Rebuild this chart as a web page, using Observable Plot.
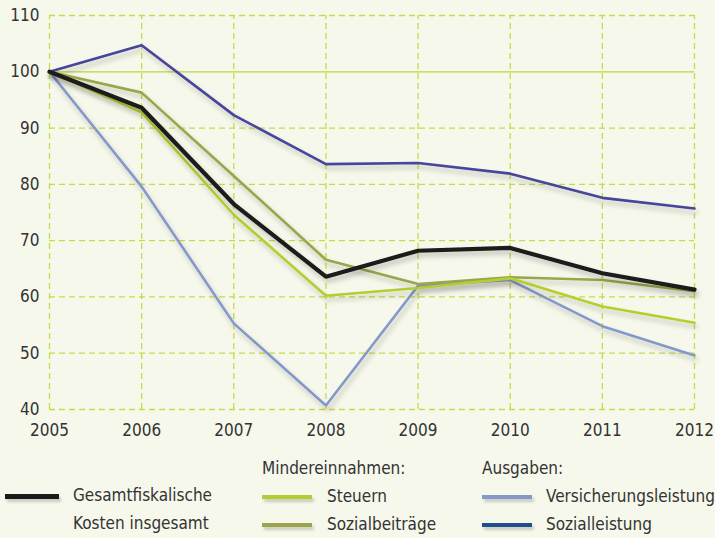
<!DOCTYPE html>
<html><head><meta charset="utf-8">
<script src="https://cdn.jsdelivr.net/npm/d3@7"></script>
<script src="https://cdn.jsdelivr.net/npm/@observablehq/plot@0.6"></script>
<style>
html,body{margin:0;padding:0;background:#f6f8eb;}
#wrap{position:relative;width:715px;height:538px;overflow:hidden;font-family:"Liberation Sans Narrow","DejaVu Sans Condensed","Roboto",sans-serif;color:#333;}
.lg{position:absolute;font-size:17px;line-height:20px;white-space:nowrap;}
.sw{position:absolute;height:4px;}
</style></head>
<body><div id="wrap"></div>
<script>
const years = [2005, 2006, 2007, 2008, 2009, 2010, 2011, 2012];
const gesamt = [100, 93.6, 76.5, 63.6, 68.2, 68.7, 64.2, 61.3];
const steuern = [100, 92.8, 74.6, 60.2, 61.6, 63.3, 58.3, 55.4];
const sozialbeitraege = [100, 96.3, 81.5, 66.6, 62.3, 63.5, 63.0, 61.0];
const versicherung = [100, 79.6, 55.3, 40.7, 62.0, 63.0, 54.8, 49.6];
const sozialleistung = [100, 104.7, 92.3, 83.6, 83.8, 81.9, 77.6, 75.7];
const yTicks = [40, 50, 60, 70, 80, 90, 100, 110];

const series = [
  {name: "Sozialleistung", values: sozialleistung, color: "#46449c", width: 2.6},
  {name: "Versicherungsleistung", values: versicherung, color: "#8499c9", width: 2.6},
  {name: "Sozialbeiträge", values: sozialbeitraege, color: "#9ca54c", width: 2.6},
  {name: "Steuern", values: steuern, color: "#b6cd2f", width: 2.6},
  {name: "Gesamt", values: gesamt, color: "#1b1a1a", width: 4.2}
];

const marks = [
  Plot.ruleY(yTicks.filter(v => v !== 100), {stroke: "#c5db4a", strokeWidth: 1.3, strokeDasharray: "6,4"}),
  Plot.ruleX(years, {y1: 40, y2: 110, stroke: "#c5db4a", strokeWidth: 1.3, strokeDasharray: "6,4"}),
  Plot.ruleY([100], {stroke: "#bcd540", strokeWidth: 1.3})
];
for (const s of series) {
  const data = years.map((y, i) => ({year: y, value: s.values[i]}));
  marks.push(Plot.line(data, {x: "year", y: "value", stroke: s.color, strokeWidth: s.width, strokeLinejoin: "miter", className: "dataline"}));
}

const chart = Plot.plot({
  width: 715,
  height: 448,
  marginLeft: 49,
  marginRight: 21,
  marginTop: 15,
  marginBottom: 39,
  style: {background: "transparent", fontFamily: '"Liberation Sans Narrow","DejaVu Sans Condensed",sans-serif', fontSize: "17px", color: "#333"},
  x: {domain: [2005, 2012], ticks: years, tickFormat: d => String(d), tickSize: 0, tickPadding: 14, label: null},
  y: {domain: [40, 110], ticks: yTicks, tickSize: 0, tickPadding: 10, label: null},
  marks
});
document.getElementById("wrap").appendChild(chart);

// drop shadow on lines
const svg = d3.select(chart);
const defs = svg.insert("defs", ":first-child");
const f = defs.append("filter").attr("id", "shadow").attr("x", "-10%").attr("y", "-10%").attr("width", "130%").attr("height", "140%");
f.append("feDropShadow").attr("dx", 2).attr("dy", 4).attr("stdDeviation", 2.5).attr("flood-color", "#000").attr("flood-opacity", 0.22);
svg.selectAll(".dataline path").attr("filter", "url(#shadow)");
svg.selectAll("text").attr("fill", "#333");

// legend
const legendHeads = [
  {text: "Mindereinnahmen:", x: 262, y: 458},
  {text: "Ausgaben:", x: 482, y: 458}
];
const legendItems = [
  {text: "Gesamtfiskalische<br>Kosten insgesamt", color: "#1b1a1a", sx: 5, sw: 54, x: 73, y: 485, h: 5, lh: 28},
  {text: "Steuern", color: "#b6cd2f", sx: 262, sw: 50, x: 327, y: 486, h: 4},
  {text: "Sozialbeiträge", color: "#9ca54c", sx: 262, sw: 50, x: 327, y: 514, h: 4},
  {text: "Versicherungsleistung", color: "#8499c9", sx: 482, sw: 50, x: 546, y: 486, h: 4},
  {text: "Sozialleistung", color: "#1f4e8e", sx: 482, sw: 50, x: 546, y: 514, h: 4}
];
const wrap = document.getElementById("wrap");
for (const h of legendHeads) {
  const d = document.createElement("div");
  d.className = "lg"; d.style.left = h.x + "px"; d.style.top = h.y + "px"; d.textContent = h.text;
  wrap.appendChild(d);
}
for (const it of legendItems) {
  const d = document.createElement("div");
  d.className = "lg"; d.style.left = it.x + "px"; d.style.top = it.y + "px";
  if (it.lh) d.style.lineHeight = it.lh + "px", d.style.top = (it.y - 4) + "px";
  d.innerHTML = it.text;
  wrap.appendChild(d);
  const s = document.createElement("div");
  s.className = "sw"; s.style.left = it.sx + "px"; s.style.width = it.sw + "px";
  s.style.top = (it.y + 9) + "px"; s.style.height = it.h + "px"; s.style.background = it.color;
  s.style.boxShadow = "2px 3px 3px rgba(0,0,0,0.18)";
  wrap.appendChild(s);
}
</script></body></html>
